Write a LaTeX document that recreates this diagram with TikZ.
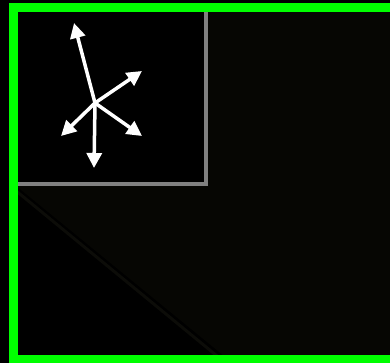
\documentclass[tikz,border=0pt]{standalone}
\usepackage{tikz}
\usetikzlibrary{
  arrows.meta,
  positioning,
  calc
}
\definecolor{bgcolor}{RGB}{0, 0, 0}
\definecolor{shadecolor}{RGB}{6, 6, 3}
\definecolor{streakcolor}{RGB}{12, 12, 8}
\definecolor{framecolor}{RGB}{0, 255, 0}
\definecolor{insetcolor}{RGB}{128, 128, 128}
\definecolor{arrowcolor}{RGB}{255, 255, 255}
\tikzset{
frame/.style={
  draw=framecolor,
  line width=9pt
},
inset/.style={
  draw=insetcolor,
  line width=4pt
},
axisarrow/.style={
  -{Triangle[length=15pt,width=15pt]},
  line width=3.5pt,
  draw=arrowcolor,
  line cap=butt
}
}
\begin{document}
\begin{tikzpicture}[x=1pt,y=-1pt]
  \useasboundingbox (0,0) rectangle (390,363);
  \clip (0,0) rectangle (390,363);
  \fill[bgcolor] (0,0) rectangle (390,363);
  % faint shading to the right of the diagonal
  \fill[shadecolor] (15,185) -- (205,185) -- (205,10) -- (395,10) -- (395,365) -- (235,365) -- cycle;
  \draw[draw=streakcolor, line width=3pt] (15,190) -- (228,365);
  % inset box and outer frame
  \draw[inset] (13.5,7.5) rectangle (205.5,184);
  \draw[frame] (13.5,7.5) rectangle (420,359.5);
  % arrows
  \coordinate (hub) at (95,103);
  \coordinate (tipa) at (74,23);
  \coordinate (tipb) at (142,71);
  \coordinate (tipc) at (142,136);
  \coordinate (tipd) at (61,136);
  \coordinate (tipe) at (94,168);
  \foreach \t in {tipa,tipb,tipc,tipd,tipe}
    \draw[axisarrow] (hub) -- (\t);
\end{tikzpicture}
\end{document}
